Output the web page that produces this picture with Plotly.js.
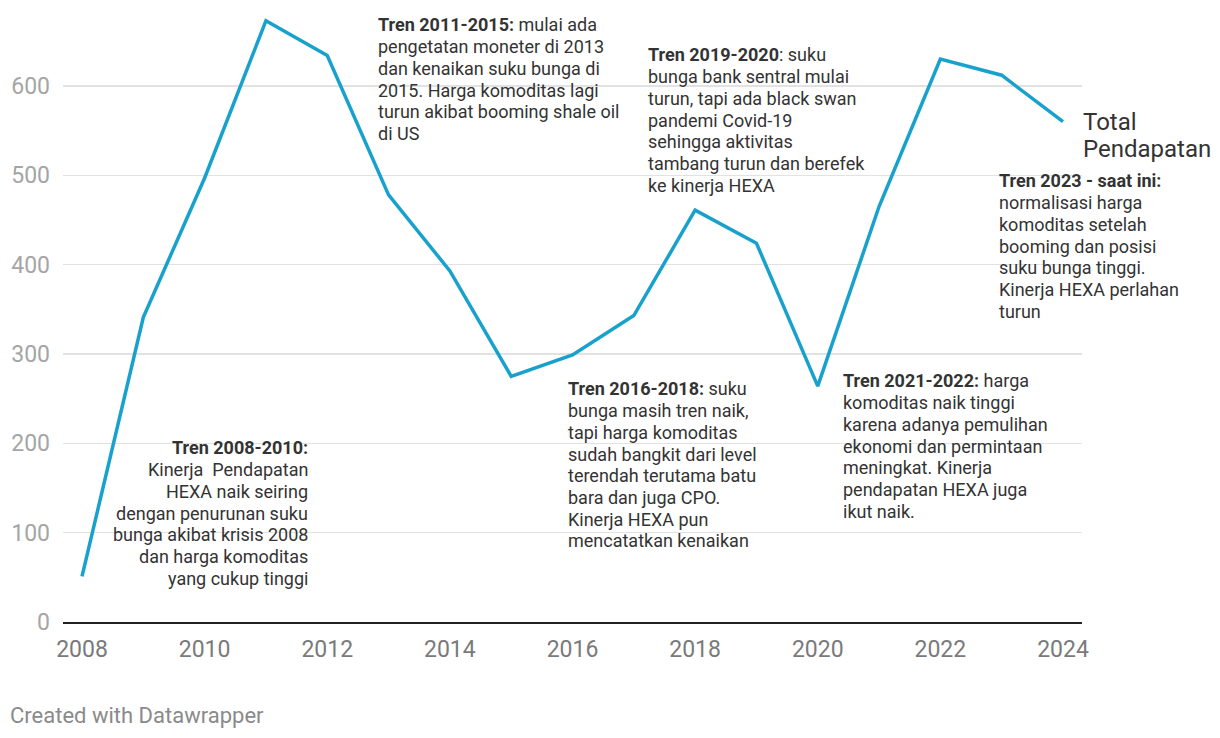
<!DOCTYPE html>
<html>
<head>
<meta charset="utf-8">
<script src="https://cdn.plot.ly/plotly-3.0.1.min.js"></script>
<style>
html,body{margin:0;padding:0;background:#fff;}
#chart{width:1220px;height:738px;}
</style>
</head>
<body>
<div id="chart"></div>
<script>
const years = [2008,2009,2010,2011,2012,2013,2014,2015,2016,2017,2018,2019,2020,2021,2022,2023,2024];
const totalPendapatan = [51,341,497,673,634,478,393,275,299,343,461,424,264,465,630,612,560];
const seriesLabel = ["Total","Pendapatan"];
const xTicks = [2008,2010,2012,2014,2016,2018,2020,2022,2024];
const yTicks = [0,100,200,300,400,500,600];

const notes = [
  {x:2011.69, y:194.8, xanchor:'right',
   lines:["<b>Tren 2008-2010:</b>","Kinerja  Pendapatan","HEXA naik seiring","dengan penurunan suku","bunga akibat krisis 2008","dan harga komoditas","yang cukup tinggi"]},
  {x:2012.84, y:668.3, xanchor:'left',
   lines:["<b>Tren 2011-2015:</b> mulai ada","pengetatan moneter di 2013","dan kenaikan suku bunga di","2015. Harga komoditas lagi","turun akibat booming shale oil","di US"]},
  {x:2017.25, y:634.7, xanchor:'left',
   lines:["<b>Tren 2019-2020</b>: suku","bunga bank sentral mulai","turun, tapi ada black swan","pandemi Covid-19","sehingga aktivitas","tambang turun dan berefek","ke kinerja HEXA"]},
  {x:2015.94, y:260.8, xanchor:'left',
   lines:["<b>Tren 2016-2018:</b> suku","bunga masih tren naik,","tapi harga komoditas","sudah bangkit dari level","terendah terutama batu","bara dan juga CPO.","Kinerja HEXA pun","mencatatkan kenaikan"]},
  {x:2020.43, y:269.8, xanchor:'left',
   lines:["<b>Tren 2021-2022:</b> harga","komoditas naik tinggi","karena adanya pemulihan","ekonomi dan permintaan","meningkat. Kinerja","pendapatan HEXA juga","ikut naik."]},
  {x:2022.97, y:493.7, xanchor:'left',
   lines:["<b>Tren 2023 - saat ini:</b>","normalisasi harga","komoditas setelah","booming dan posisi","suku bunga tinggi.","Kinerja HEXA perlahan","turun"]}
];

const LH = 21.7;
const annFont = {family:'Roboto, "Noto Sans", sans-serif', size:18, color:'#333333'};
const annotations = [];
notes.forEach(n => {
  n.lines.forEach((t, i) => {
    annotations.push({
      x:n.x, y:n.y, xref:'x', yref:'y', xanchor:n.xanchor, yanchor:'middle',
      align:n.xanchor, xshift:(n.xanchor === 'left' ? -3 : 2), yshift:-i*LH,
      text:t, showarrow:false, font:annFont
    });
  });
});
seriesLabel.forEach((t, i) => {
  annotations.push({
    x:years[years.length-1], y:totalPendapatan[totalPendapatan.length-1], xref:'x', yref:'y',
    xanchor:'left', yanchor:'middle', xshift:18, yshift:-i*27, align:'left', showarrow:false,
    text:t, font:{family:'Roboto, sans-serif', size:24, color:'#333333'}
  });
});
annotations.push({
  x:0, y:0, xref:'paper', yref:'paper', xanchor:'left', yanchor:'middle',
  xshift:-55, yshift:-93, showarrow:false, text:'Created with Datawrapper',
  font:{family:'Roboto, sans-serif', size:22, color:'#8a8a8a'}
});

const trace = {
  x: years, y: totalPendapatan, type:'scatter', mode:'lines',
  line:{color:'#18a1cd', width:3.5}, hoverinfo:'x+y', name:'Total Pendapatan'
};

const layout = {
  width:1220, height:738,
  margin:{l:63, r:138, t:10, b:116},
  paper_bgcolor:'#ffffff', plot_bgcolor:'#ffffff',
  showlegend:false,
  font:{family:'Roboto, sans-serif'},
  xaxis:{
    range:[2007.69, 2024.31], tickvals:xTicks, ticktext:xTicks.map(String),
    showgrid:false, zeroline:false, showline:true, linecolor:'#222', linewidth:2,
    ticks:'', ticklabelstandoff:5,
    tickfont:{family:'Roboto, sans-serif', size:23, color:'#7a7a7a'}
  },
  yaxis:{
    range:[0,685], tickvals:yTicks, ticktext:yTicks.map(String),
    showgrid:true, gridcolor:'#e2e2e2', gridwidth:1.5, zeroline:false,
    ticks:'', ticklabelstandoff:12,
    tickfont:{family:'Roboto, sans-serif', size:23, color:'#a5a5a5'}
  },
  annotations: annotations
};

Plotly.newPlot('chart', [trace], layout, {displayModeBar:false, staticPlot:true});
</script>
</body>
</html>
